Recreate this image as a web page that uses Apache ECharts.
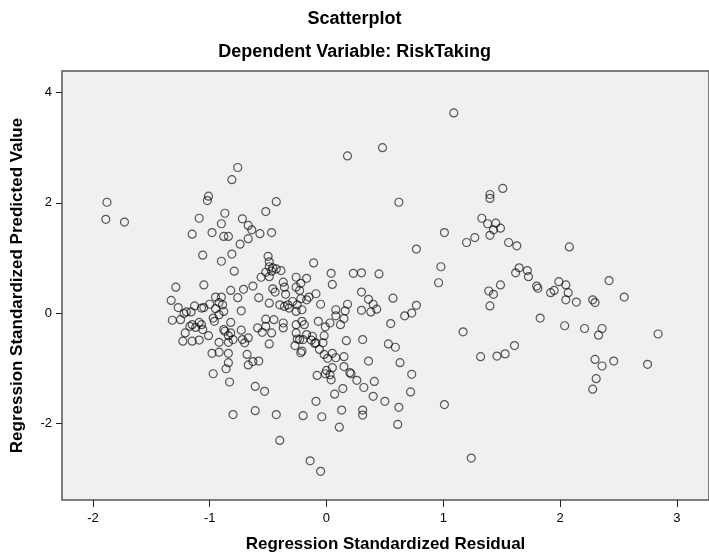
<!DOCTYPE html>
<html>
<head>
<meta charset="utf-8">
<script src="https://cdn.jsdelivr.net/npm/echarts@6/dist/echarts.min.js"></script>
<style>
html,body{margin:0;padding:0;background:#fff;overflow:hidden;}
#chart{width:709px;height:558px;}
</style>
</head>
<body>
<div id="chart"></div>
<script>
// Regression standardized residual (x) and standardized predicted value (y)
const residual = [
-0.76,-0.81,-1.88,-1.01,-1.02,-0.43,-1.89,-1.73,-1.09,-0.87,
-0.72,-0.52,-0.90,-0.67,-0.64,-0.57,-0.47,-1.15,-0.98,-0.88,
-0.84,-0.67,-0.74,-1.06,-0.81,-0.90,-0.79,-0.50,-0.49,-0.49,
-0.46,-0.47,-0.52,-0.56,-0.49,-0.43,-1.29,-1.05,-1.33,-1.27,
-1.20,-1.22,-1.16,-1.13,-1.07,-1.05,-1.00,-0.95,-0.90,-0.92,
-0.95,-0.89,-0.88,-0.92,-0.82,-0.76,-0.71,-0.63,-0.58,-0.49,
-0.46,-0.44,-0.73,-1.32,-1.25,-1.15,-1.09,-1.07,-1.12,-1.06,
-1.17,-1.21,-1.23,-1.15,-1.09,-1.01,-0.97,-0.96,-0.92,-0.88,
-0.87,-0.82,-0.84,-0.82,-0.84,-0.73,-0.80,-0.72,-0.67,-0.70,
-0.59,-0.55,-0.52,-0.47,-0.52,-0.45,-0.49,-0.98,-0.92,-0.84,
-0.84,-0.86,-0.97,-0.83,-0.68,-0.67,-0.63,-0.58,-0.61,-0.53,
-0.80,-0.61,-0.43,-0.40,1.09,0.48,0.18,0.62,1.33,1.01,
1.20,1.27,0.77,-0.39,-0.11,0.04,0.05,0.23,0.30,0.45,
0.98,0.96,0.57,0.30,0.36,0.40,0.43,0.38,0.30,0.77,
0.73,0.67,0.55,1.17,0.53,0.59,0.31,0.17,0.08,0.16,
0.18,0.08,0.15,0.12,0.03,-0.01,-0.07,-0.02,-0.05,-0.09,
-0.26,-0.17,-0.22,-0.26,-0.37,-0.36,-0.35,-0.23,-0.22,-0.17,
-0.15,-0.29,-0.33,-0.32,-0.36,-0.40,-0.25,-0.26,-0.21,-0.37,
-0.37,-0.26,-0.21,-0.19,-0.26,-0.17,-0.12,-0.13,-0.09,-0.03,
-0.06,-0.25,-0.27,-0.23,-0.20,-0.10,-0.21,-0.22,-0.02,0.01,
0.05,0.08,0.15,0.05,0.00,0.03,0.04,-0.08,-0.01,0.15,
0.20,0.21,0.26,0.32,0.14,0.07,-0.09,0.36,0.63,0.73,
0.41,0.40,0.50,0.72,0.62,1.01,0.13,0.31,0.31,-0.04,
-0.20,0.11,0.61,-0.14,-0.05,1.24,1.51,1.40,1.40,1.38,
1.45,1.43,1.49,1.40,1.56,1.63,2.08,1.65,1.62,1.72,
1.73,1.80,1.81,1.49,1.39,1.43,1.40,1.99,1.92,1.95,
2.05,2.07,2.05,2.14,2.28,2.30,2.42,2.55,1.83,2.04,
2.21,2.36,2.33,2.84,1.61,1.53,1.46,1.32,2.30,2.36,
2.46,2.31,2.28,2.75
];
const predicted = [
2.64,2.42,2.01,2.12,2.04,2.02,1.70,1.65,1.72,1.81,
1.71,1.84,1.62,1.59,1.51,1.44,1.46,1.43,1.46,1.39,
1.39,1.35,1.25,1.05,1.07,0.94,0.76,1.03,0.93,0.84,
0.82,0.76,0.74,0.65,0.66,0.80,0.47,0.51,0.23,0.10,
0.02,-0.01,0.02,0.13,0.09,0.10,0.16,0.29,0.29,0.19,
0.08,0.15,0.03,-0.03,0.41,0.28,0.43,0.49,0.28,0.18,
0.44,0.38,0.04,-0.13,-0.12,-0.21,-0.17,-0.21,-0.26,-0.30,
-0.24,-0.36,-0.51,-0.51,-0.49,-0.41,-0.09,-0.15,-0.53,-0.30,
-0.33,-0.17,-0.41,-0.36,-0.53,-0.31,-0.48,-0.48,-0.45,-0.54,
-0.27,-0.35,-0.24,-0.36,-0.11,-0.12,-0.56,-0.73,-0.71,-0.73,
-0.90,-1.01,-1.10,-1.25,-0.75,-0.94,-0.88,-0.87,-1.33,-1.42,
-1.84,-1.77,-1.84,-2.31,3.63,3.00,2.85,2.01,1.72,1.46,
1.28,1.37,1.16,0.77,0.91,0.72,0.52,0.72,0.73,0.71,
0.84,0.55,0.27,0.38,0.25,0.16,0.07,0.02,0.05,0.14,
0.00,-0.05,-0.19,-0.34,-0.56,-0.62,-0.48,-0.50,0.06,0.04,
0.16,-0.05,-0.10,-0.21,-0.18,-0.25,-0.15,-0.41,0.16,0.35,
0.65,0.63,0.54,0.47,0.56,0.47,0.34,0.41,0.26,0.24,
0.29,0.21,0.15,0.09,0.12,0.15,0.15,0.03,0.06,-0.18,
-0.27,-0.21,-0.15,-0.21,-0.36,-0.39,-0.42,-0.49,-0.54,-0.54,
-0.66,-0.47,-0.59,-0.48,-0.48,-0.55,-0.69,-0.72,-0.75,-0.82,
-0.73,-0.81,-0.79,-0.99,-1.04,-1.12,-1.21,-1.13,-1.10,-0.97,
-1.08,-1.10,-1.22,-1.35,-1.37,-1.47,-1.60,-0.87,-0.90,-1.11,
-1.24,-1.51,-1.60,-1.43,-1.71,-1.66,-1.76,-1.76,-1.85,-1.88,
-1.86,-2.07,-2.02,-2.68,-2.87,-2.63,2.26,2.15,2.08,1.62,
1.63,1.51,1.54,1.41,1.28,1.22,1.20,0.82,0.73,0.77,
0.66,0.49,0.45,0.51,0.40,0.34,0.13,0.57,0.37,0.41,
0.51,0.37,0.24,0.20,0.24,0.19,0.59,0.29,-0.09,-0.23,
-0.28,-0.28,-0.40,-0.38,-0.59,-0.74,-0.78,-0.79,-0.84,-0.96,
-0.87,-1.19,-1.38,-0.93
];
const xTicks = [-2, -1, 0, 1, 2, 3];
const yTicks = [-2, 0, 2, 4];
const chartTitle = 'Scatterplot';
const chartSubtitle = 'Dependent Variable: RiskTaking';
const xTitle = 'Regression Standardized Residual';
const yTitle = 'Regression Standardized Predicted Value';

const FONT = "'Liberation Sans', Arial, sans-serif";
const points = residual.map((x, i) => [x, predicted[i]]);

const chart = echarts.init(document.getElementById('chart'), null, {renderer: 'canvas'});
chart.setOption({
  animation: false,
  backgroundColor: '#ffffff',
  title: [
    {text: chartTitle, left: 'center', top: 10, padding: 0,
     textStyle: {fontFamily: FONT, fontSize: 18, fontWeight: 'bold', color: '#000'}},
    {text: chartSubtitle, left: 'center', top: 43, padding: 0,
     textStyle: {fontFamily: FONT, fontSize: 18, fontWeight: 'bold', color: '#000'}}
  ],
  grid: {
    left: 62, top: 71, width: 648, height: 435,
    show: true, backgroundColor: '#f0f0f0', borderColor: '#555555', borderWidth: 1.5
  },
  xAxis: {
    type: 'value', min: -2.265, max: 3.276,
    name: xTitle, nameLocation: 'middle', nameGap: 36,
    nameTextStyle: {fontFamily: FONT, fontSize: 17, fontWeight: 'bold', color: '#000'},
    axisLine: {show: false, onZero: false},
    splitLine: {show: false},
    axisTick: {show: true, customValues: xTicks, length: 7, lineStyle: {color: '#222', width: 1}},
    axisLabel: {customValues: xTicks, margin: 12, fontFamily: FONT, fontSize: 13, color: '#000'}
  },
  yAxis: {
    type: 'value', min: -3.39, max: 4.39,
    name: yTitle, nameLocation: 'middle', nameGap: 36, nameRotate: 90,
    nameTextStyle: {fontFamily: FONT, fontSize: 17, fontWeight: 'bold', color: '#000'},
    axisLine: {show: false, onZero: false},
    splitLine: {show: false},
    axisTick: {show: true, customValues: yTicks, length: 6, lineStyle: {color: '#222', width: 1}},
    axisLabel: {customValues: yTicks, margin: 10, fontFamily: FONT, fontSize: 13, color: '#000'}
  },
  series: [{
    type: 'scatter',
    data: points,
    symbol: 'circle',
    symbolSize: 8,
    itemStyle: {color: 'rgba(0,0,0,0)', borderColor: 'rgba(0,0,0,0.8)', borderWidth: 1.2},
    emphasis: {disabled: true}
  }]
});
</script>
</body>
</html>
